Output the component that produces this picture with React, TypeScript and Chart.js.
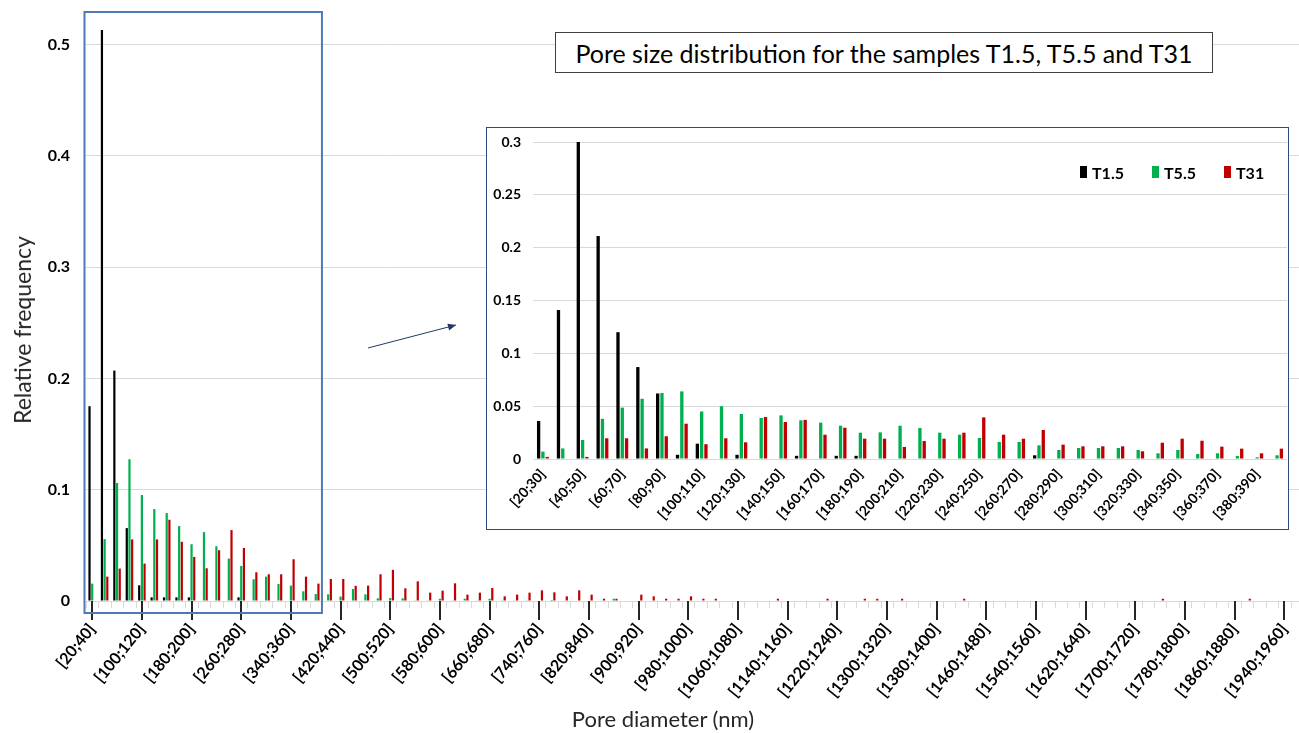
import React, { useEffect, useRef } from 'react';
import { Chart, registerables } from 'chart.js';

Chart.register(...registerables);

const FONT = "Lato, 'Open Sans', 'DejaVu Sans', sans-serif";
const BLACK = '#000000';
const GREEN = '#00B050';
const RED = '#C00000';
const GRID = '#D9D9D9';

// ---------- Main chart: 20 nm classes ----------
const mainCategories: string[] = Array.from({ length: 98 }, (_, i) => `[${20 + 20 * i};${40 + 20 * i}]`);

const mainT15: number[] = [
  0.175, 0.513, 0.207, 0.0655, 0.0141, 0.0033, 0.0033, 0.0033, 0.0033, 0,
  0, 0, 0.0033, 0, 0, 0, 0, 0, 0, 0,
  0, 0, 0, 0, 0, 0, 0, 0, 0, 0,
  0, 0, 0, 0, 0, 0, 0, 0, 0, 0,
  0, 0, 0, 0, 0, 0, 0, 0, 0, 0,
  0, 0, 0, 0, 0, 0, 0, 0, 0, 0,
  0, 0, 0, 0, 0, 0, 0, 0, 0, 0,
  0, 0, 0, 0, 0, 0, 0, 0, 0, 0,
  0, 0, 0, 0, 0, 0, 0, 0, 0, 0,
  0, 0, 0, 0, 0, 0, 0, 0,
];

const mainT55: number[] = [
  0.0156, 0.0556, 0.106, 0.1273, 0.0952, 0.0826, 0.079, 0.0673, 0.051, 0.0619,
  0.0492, 0.0381, 0.0315, 0.0195, 0.0219, 0.0153, 0.0138, 0.0087, 0.0062, 0.006,
  0.004, 0.0108, 0.006, 0.0024, 0.0027, 0.0024, 0.0006, 0.0006, 0.002, 0.0006,
  0.002, 0.0006, 0.002, 0.0006, 0.0006, 0.0006, 0, 0.0009, 0, 0,
  0, 0, 0.002, 0, 0, 0, 0, 0, 0, 0,
  0, 0, 0, 0, 0, 0, 0, 0, 0, 0,
  0.0006, 0, 0, 0, 0, 0, 0, 0, 0, 0,
  0, 0, 0, 0, 0, 0, 0, 0, 0, 0,
  0, 0, 0, 0, 0, 0, 0, 0, 0, 0,
  0, 0, 0, 0, 0, 0, 0, 0,
];

const mainT31: number[] = [
  0, 0.0219, 0.0291, 0.0553, 0.0336, 0.0553, 0.073, 0.0532, 0.0396, 0.0294,
  0.0456, 0.0637, 0.0477, 0.0258, 0.024, 0.024, 0.0375, 0.0219, 0.0156, 0.0198,
  0.0198, 0.0136, 0.0138, 0.024, 0.028, 0.0114, 0.0177, 0.0075, 0.0093, 0.0159,
  0.0057, 0.0075, 0.0117, 0.0042, 0.0057, 0.0075, 0.0096, 0.0078, 0.0042, 0.0096,
  0.0057, 0.002, 0.002, 0, 0.0057, 0.0042, 0.002, 0.002, 0.0042, 0.002,
  0.002, 0, 0, 0, 0, 0.002, 0, 0, 0, 0.002,
  0, 0, 0.002, 0.002, 0, 0.002, 0, 0, 0, 0,
  0.002, 0, 0, 0, 0, 0, 0, 0, 0, 0,
  0, 0, 0, 0, 0, 0, 0.002, 0, 0, 0,
  0, 0, 0, 0.002, 0, 0, 0, 0,
];

const mainYTicks: number[] = [0, 0.1, 0.2, 0.3, 0.4, 0.5];

// ---------- Inset chart: 10 nm classes ----------
const insetCategories: string[] = Array.from({ length: 38 }, (_, i) => `[${20 + 10 * i};${30 + 10 * i}]`);

const insetT15: number[] = [
  0.036, 0.141, 0.302, 0.211, 0.12, 0.087, 0.062, 0.004, 0.0145, 0,
  0.004, 0, 0, 0.003, 0, 0.003, 0.003, 0, 0, 0,
  0, 0, 0, 0, 0, 0.0035, 0, 0, 0, 0,
  0, 0, 0, 0, 0, 0, 0, 0,
];

const insetT55: number[] = [
  0.007, 0.01, 0.018, 0.038, 0.0486, 0.057, 0.0625, 0.064, 0.045, 0.05,
  0.0426, 0.0388, 0.0413, 0.0366, 0.0344, 0.0315, 0.0249, 0.0252, 0.0315, 0.0294,
  0.0249, 0.023, 0.0199, 0.0161, 0.0161, 0.0129, 0.0085, 0.0104, 0.0104, 0.0104,
  0.0085, 0.0054, 0.0085, 0.0047, 0.0054, 0.0028, 0.0016, 0.0035,
];

const insetT31: number[] = [
  0.002, 0, 0.002, 0.0196, 0.0196, 0.01, 0.0215, 0.0334, 0.014, 0.0196,
  0.0158, 0.0397, 0.035, 0.037, 0.023, 0.0296, 0.0192, 0.0192, 0.0114, 0.017,
  0.0192, 0.0249, 0.0394, 0.023, 0.0192, 0.0275, 0.0136, 0.012, 0.012, 0.012,
  0.0073, 0.0154, 0.0192, 0.0173, 0.0117, 0.0098, 0.0054, 0.0098,
];

const seriesNames: string[] = ['T1.5', 'T5.5', 'T31'];
const seriesColors: string[] = [BLACK, GREEN, RED];

// highlighted range of the main chart (classes shown in the inset)
const ZOOM_FIRST = 0;
const ZOOM_LAST = 18;

const noPad = (s: any) => {
  s.paddingLeft = 0;
  s.paddingRight = 0;
  s.paddingTop = 0;
  s.paddingBottom = 0;
};

const mainDecor = {
  id: 'mainDecor',
  afterDatasetsDraw(chart: any) {
    const { ctx, chartArea } = chart;
    const x = chart.scales.x;
    const half = (x.getPixelForValue(1) - x.getPixelForValue(0)) / 2;
    const base = chartArea.bottom;
    ctx.save();
    // minor ticks at class boundaries
    ctx.strokeStyle = GRID;
    ctx.lineWidth = 1;
    ctx.beginPath();
    for (let i = 0; i <= mainCategories.length; i++) {
      const px = Math.round(x.getPixelForValue(i) - half) + 0.5;
      ctx.moveTo(px, base);
      ctx.lineTo(px, base + 7);
    }
    ctx.stroke();
    // major ticks at labelled classes
    ctx.strokeStyle = '#262626';
    ctx.lineWidth = 2;
    ctx.beginPath();
    for (let i = 0; i < mainCategories.length; i += 4) {
      const px = Math.round(x.getPixelForValue(i));
      ctx.moveTo(px, base);
      ctx.lineTo(px, base + 19);
    }
    ctx.stroke();
    // highlight box
    const left = x.getPixelForValue(ZOOM_FIRST) - half - 1.5;
    const right = x.getPixelForValue(ZOOM_LAST) + half;
    const top = chartArea.top + 1;
    const bottom = base + 12;
    ctx.strokeStyle = '#5079B3';
    ctx.lineWidth = 2;
    ctx.strokeRect(left, top, right - left, bottom - top);
    // arrow to the inset
    const x0 = right + 46, y0 = 348, x1 = 456, y1 = 325;
    ctx.strokeStyle = '#1F3864';
    ctx.fillStyle = '#1F3864';
    ctx.lineWidth = 1;
    ctx.beginPath();
    ctx.moveTo(x0, y0);
    ctx.lineTo(x1, y1);
    ctx.stroke();
    const ang = Math.atan2(y1 - y0, x1 - x0);
    ctx.beginPath();
    ctx.moveTo(x1, y1);
    ctx.lineTo(x1 - 8 * Math.cos(ang) + 3.5 * Math.sin(ang), y1 - 8 * Math.sin(ang) - 3.5 * Math.cos(ang));
    ctx.lineTo(x1 - 8 * Math.cos(ang) - 3.5 * Math.sin(ang), y1 - 8 * Math.sin(ang) + 3.5 * Math.cos(ang));
    ctx.closePath();
    ctx.fill();
    ctx.restore();
  },
};

const legendLeft: number[] = [1080, 1152, 1224];

export default function App() {
  const mainRef = useRef<HTMLCanvasElement>(null);
  const insetRef = useRef<HTMLCanvasElement>(null);

  useEffect(() => {
    const mainData = [mainT15, mainT55, mainT31];
    const insetData = [insetT15, insetT55, insetT31];

    const main = new Chart(mainRef.current as HTMLCanvasElement, {
      type: 'bar',
      data: {
        labels: mainCategories,
        datasets: seriesNames.map((name, k) => ({
          label: name,
          data: mainData[k],
          backgroundColor: seriesColors[k],
          borderWidth: 0,
          categoryPercentage: 0.65,
          barPercentage: 0.82,
        })),
      },
      options: {
        responsive: false,
        animation: false,
        devicePixelRatio: 1,
        layout: { autoPadding: false, padding: { left: 0, right: 0, top: 11, bottom: 0 } },
        plugins: { legend: { display: false }, tooltip: { enabled: false } },
        scales: {
          x: {
            grid: { display: false, drawTicks: false },
            border: { display: true, color: GRID },
            ticks: {
              autoSkip: false,
              minRotation: 51,
              maxRotation: 51,
              padding: 19,
              color: '#000',
              font: { family: FONT, size: 16, weight: 'bold' },
              callback: (_v: any, i: number) => (i % 4 === 0 ? mainCategories[i] : ''),
            },
            afterFit: (s: any) => { s.height = 132; noPad(s); },
          },
          y: {
            min: 0,
            max: 0.53,
            afterBuildTicks: (s: any) => { s.ticks = mainYTicks.map((v) => ({ value: v })); },
            ticks: {
              padding: 16,
              color: '#000',
              font: { family: FONT, size: 16, weight: 'bold' },
              callback: (v: any) => String(Math.round(Number(v) * 10) / 10),
            },
            grid: { color: GRID, drawTicks: false },
            border: { display: false },
            afterFit: (s: any) => { s.width = 86; noPad(s); },
          },
        },
      },
      plugins: [mainDecor],
    } as any);

    const inset = new Chart(insetRef.current as HTMLCanvasElement, {
      type: 'bar',
      data: {
        labels: insetCategories,
        datasets: seriesNames.map((name, k) => ({
          label: name,
          data: insetData[k],
          backgroundColor: seriesColors[k],
          borderWidth: 0,
          categoryPercentage: 0.65,
          barPercentage: 0.77,
        })),
      },
      options: {
        responsive: false,
        animation: false,
        devicePixelRatio: 1,
        layout: { autoPadding: false, padding: { left: 0, right: 0, top: 14, bottom: 0 } },
        plugins: { tooltip: { enabled: false }, legend: { display: false } },
        scales: {
          x: {
            grid: { display: false, drawTicks: false },
            border: { display: true, color: GRID },
            ticks: {
              autoSkip: false,
              minRotation: 48,
              maxRotation: 48,
              padding: 7,
              color: '#000',
              font: { family: FONT, size: 14, weight: 'bold' },
              callback: (_v: any, i: number) => (i % 2 === 0 ? insetCategories[i] : ''),
            },
            afterFit: (s: any) => { s.height = 69; noPad(s); },
          },
          y: {
            min: 0,
            max: 0.3,
            ticks: {
              stepSize: 0.05,
              padding: 12,
              color: '#000',
              font: { family: FONT, size: 14, weight: 'bold' },
              callback: (v: any) => String(Math.round(Number(v) * 100) / 100),
            },
            grid: { color: GRID, drawTicks: false },
            border: { display: false },
            afterFit: (s: any) => { s.width = 46; noPad(s); },
          },
        },
      },
    } as any);

    return () => {
      main.destroy();
      inset.destroy();
    };
  }, []);

  return (
    <div
      style={{
        position: 'fixed',
        left: 0,
        top: 0,
        width: 1299,
        height: 733,
        overflow: 'hidden',
        background: '#fff',
        fontFamily: FONT,
      }}
    >
      <canvas
        ref={mainRef}
        width={1303}
        height={733}
        style={{ position: 'absolute', left: 0, top: 0, width: 1303, height: 733 }}
      />
      <div
        style={{
          position: 'absolute',
          left: 486,
          top: 127,
          width: 803,
          height: 403,
          border: '1.5px solid #2F4B7C',
          boxSizing: 'border-box',
          background: '#fff',
        }}
      >
        <canvas ref={insetRef} width={800} height={400} style={{ display: 'block', width: 800, height: 400 }} />
      </div>
      {seriesNames.map((name, k) => (
        <div
          key={name}
          style={{
            position: 'absolute',
            left: legendLeft[k],
            top: 162,
            height: 20,
            display: 'flex',
            alignItems: 'center',
            fontSize: 16,
            fontWeight: 'bold',
            color: '#000',
            whiteSpace: 'nowrap',
          }}
        >
          <span style={{ display: 'inline-block', width: 7, height: 12, background: seriesColors[k], marginRight: 5 }} />
          {name}
        </div>
      ))}
      <div
        style={{
          position: 'absolute',
          left: 555,
          top: 32,
          width: 658,
          height: 41,
          boxSizing: 'border-box',
          border: '1px solid #404040',
          background: '#fff',
          display: 'flex',
          alignItems: 'center',
          justifyContent: 'center',
          fontSize: 25,
          color: '#000',
          whiteSpace: 'nowrap',
        }}
      >
        Pore size distribution for the samples T1.5, T5.5 and T31
      </div>
      <div
        style={{
          position: 'absolute',
          left: 22,
          top: 330,
          transform: 'translate(-50%, -50%) rotate(-90deg)',
          fontSize: 23,
          color: '#262626',
          whiteSpace: 'nowrap',
        }}
      >
        Relative frequency
      </div>
      <div
        style={{
          position: 'absolute',
          left: 663,
          top: 718,
          transform: 'translate(-50%, -50%)',
          fontSize: 22,
          color: '#262626',
          whiteSpace: 'nowrap',
        }}
      >
        Pore diameter (nm)
      </div>
    </div>
  );
}
